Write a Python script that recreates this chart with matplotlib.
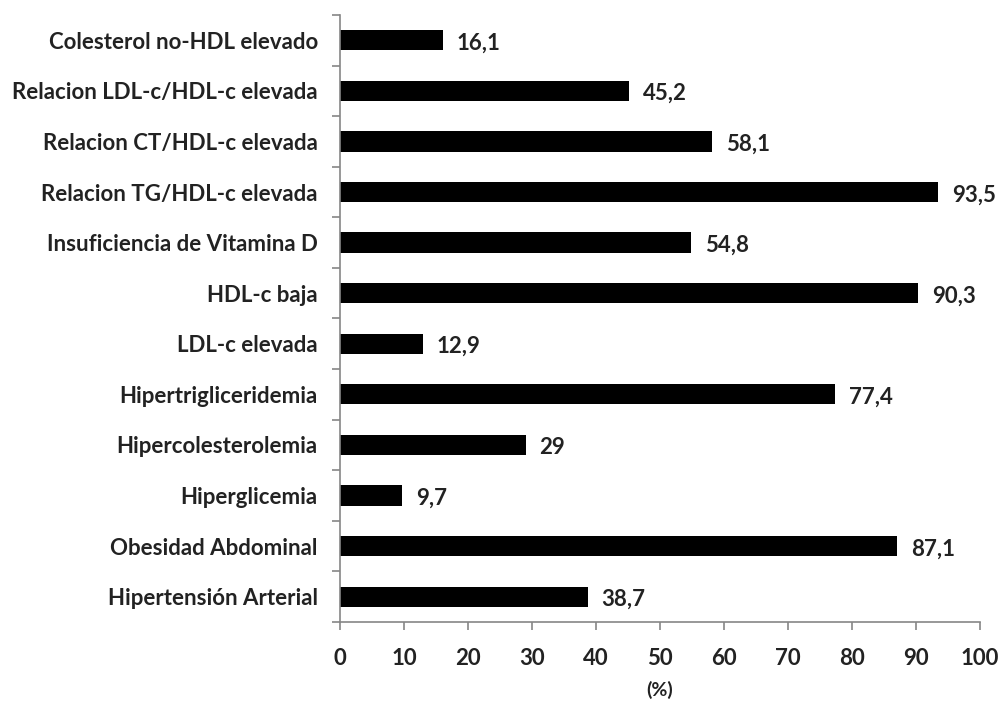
import matplotlib.pyplot as plt
import numpy as np

categorias = [
    'Hipertensión Arterial',
    'Obesidad Abdominal',
    'Hiperglicemia',
    'Hipercolesterolemia',
    'Hipertrigliceridemia',
    'LDL-c elevada',
    'HDL-c baja',
    'Insuficiencia de Vitamina D',
    'Relacion TG/HDL-c elevada',
    'Relacion CT/HDL-c elevada',
    'Relacion LDL-c/HDL-c elevada',
    'Colesterol no-HDL elevado',
]
valores = [38.7, 87.1, 9.7, 29, 77.4, 12.9, 90.3, 54.8, 93.5, 58.1, 45.2, 16.1]
etiquetas = ['38,7', '87,1', '9,7', '29', '77,4', '12,9', '90,3', '54,8', '93,5', '58,1', '45,2', '16,1']

plt.rcParams['font.family'] = ['Lato', 'DejaVu Sans']
gris = '#868686'

fig = plt.figure(figsize=(10.02, 7.04), dpi=100)
ax = fig.add_axes([0.3393, 0.1165, 0.6387, 0.8622])

y = np.arange(len(categorias))
ax.barh(y, valores, height=0.4, color='black')
for yi, v, t in zip(y, valores, etiquetas):
    ax.annotate(t, (v, yi), xytext=(10, -2), textcoords='offset points',
                ha='left', va='center', fontsize=16, fontweight='bold', color='#222222')

ax.set_xlim(0, 100)
ax.set_ylim(-0.5, len(categorias) - 0.5)
ax.set_xticks(np.arange(0, 101, 10))
ax.set_yticks(y)
ax.set_yticklabels(categorias)
ax.set_yticks(np.arange(-0.5, len(categorias), 1), minor=True)
ax.tick_params(axis='y', which='major', length=0, pad=16)
ax.tick_params(axis='y', which='minor', length=6, color=gris, width=1.2)
ax.tick_params(axis='x', length=6, color=gris, width=1.2, pad=13)
for lab in ax.get_yticklabels() + ax.get_xticklabels():
    lab.set_fontsize(16)
    lab.set_fontweight('bold')
    lab.set_color('#222222')

for s in ['top', 'right']:
    ax.spines[s].set_visible(False)
for s in ['left', 'bottom']:
    ax.spines[s].set_color(gris)
    ax.spines[s].set_linewidth(1.2)

ax.set_xlabel('(%)', fontsize=14, fontweight='bold', color='#222222', labelpad=8)

fig.savefig('out.png', dpi=100)
